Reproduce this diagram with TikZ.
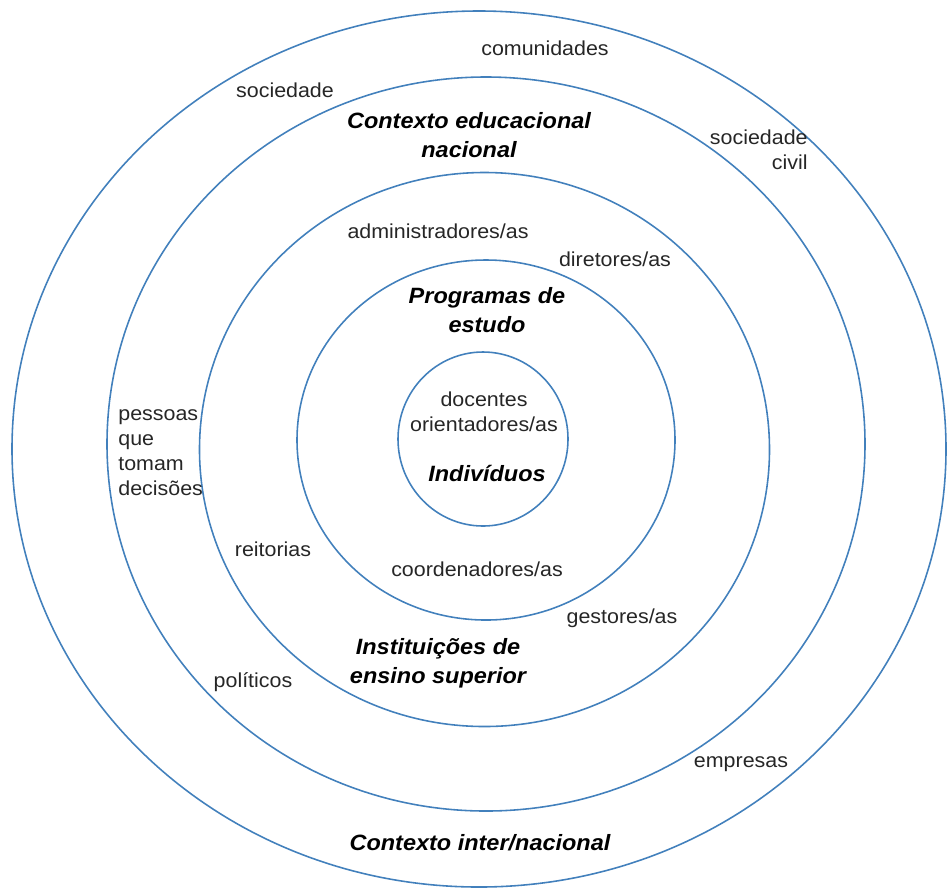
\documentclass[tikz,border=0pt]{standalone}
\usepackage{fontspec}
\setmainfont{Liberation Sans}
\definecolor{ringblue}{RGB}{66,128,188}
\tikzset{
  ring/.style={draw=ringblue, line width=0.9pt},
  actor/.style={inner sep=0pt, xscale=1.06, text=black!85, font=\fontsize{11.5}{14.2}\selectfont},
  level/.style={inner sep=0pt, xscale=1.06, align=center, font=\fontsize{12.6}{16.5}\selectfont\bfseries\itshape}
}

\begin{document}
\begin{tikzpicture}[x=0.2mm, y=-0.2mm]
  %%%%% START %%%%%
  \useasboundingbox (0,0) rectangle (948,888);

  % rings, outside in
  \draw[ring] (479,449) ellipse [x radius=93.4mm, y radius=87.6mm];
  \draw[ring] (486,444) ellipse [x radius=75.8mm, y radius=73.4mm];
  \draw[ring] (484.5,449.5) ellipse [x radius=57mm, y radius=55.4mm];
  \draw[ring] (486,440) ellipse [x radius=37.8mm, y radius=36mm];
  \draw[ring] (483,439) ellipse [x radius=17mm, y radius=17.4mm];

  % outer ring
  \node[actor] (comunid) at (545,48) {comunidades};
  \node[actor] (socied) at (285,90) {sociedade};
  \node[actor, align=right, anchor=east] (civil) at (808,150) {sociedade\\civil};
  \node[actor, align=left, anchor=west] (decisoes) at (118,453) {pessoas\\que\\tomam\\decisões};
  \node[actor] (politic) at (253,682) {políticos};
  \node[actor] (empres) at (741,764) {empresas};
  \node[level] (internac) at (480,843) {Contexto inter/nacional};

  % national ring
  \node[level] (nacional) at (469,135) {Contexto educacional\\nacional};
  \node[actor] (admin) at (438,231) {administradores/as};
  \node[actor] (diret) at (615,259) {diretores/as};
  \node[actor] (reitor) at (273,549) {reitorias};
  \node[actor] (gestor) at (622,618) {gestores/as};

  % institutions ring
  \node[level] (ies) at (438,663) {Instituições de\\ensino superior};
  \node[actor] (coord) at (477,569) {coordenadores/as};

  % programmes ring
  \node[level] (progr) at (487,310) {Programas de\\estudo};

  % centre
  \node[actor, align=center] (docent) at (484,412) {docentes\\orientadores/as};
  \node[level] (indiv) at (487,473) {Indivíduos};
  %%%%% END %%%%%
\end{tikzpicture}
\end{document}
